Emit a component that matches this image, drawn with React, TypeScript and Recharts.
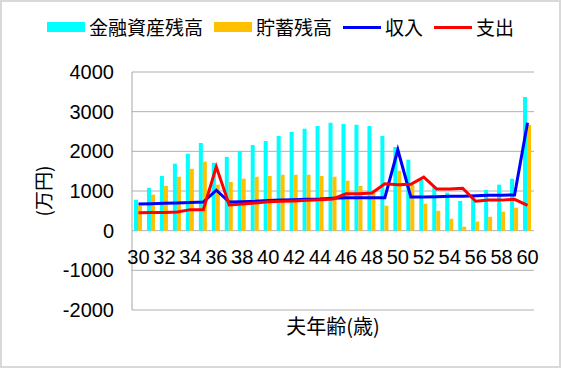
import React from 'react';
import {
  ComposedChart,
  Bar,
  Line,
  XAxis,
  YAxis,
  CartesianGrid,
  Legend
} from 'recharts';

// 夫年齢(歳)
const ages = [30, 31, 32, 33, 34, 35, 36, 37, 38, 39, 40, 41, 42, 43, 44, 45, 46, 47, 48, 49, 50, 51, 52, 53, 54, 55, 56, 57, 58, 59, 60];

// 金融資産残高 (万円)
const assets = [780, 1080, 1380, 1690, 1940, 2210, 1710, 1860, 2010, 2160, 2260, 2390, 2490, 2570, 2640, 2720, 2690, 2670, 2640, 2390, 2110, 1790, 1280, 1130, 960, 750, 850, 1030, 1160, 1310, 3370];

// 貯蓄残高 (万円)
const savings = [630, 910, 1130, 1360, 1560, 1740, 1160, 1230, 1310, 1360, 1380, 1410, 1410, 1410, 1380, 1360, 1260, 1130, 950, 630, 1510, 1160, 680, 500, 300, 100, 230, 350, 480, 580, 2670];

// 収入 (万円)
const income = [670, 680, 690, 700, 710, 720, 1020, 720, 730, 740, 760, 770, 780, 790, 800, 820, 830, 830, 830, 830, 2040, 850, 850, 855, 865, 870, 880, 890, 895, 900, 2720];

// 支出 (万円)
const expense = [450, 455, 460, 470, 530, 530, 1610, 650, 670, 700, 730, 740, 750, 765, 780, 800, 930, 930, 950, 1180, 1160, 1170, 1350, 1050, 1050, 1070, 740, 770, 770, 790, 640];

const yTicks = [-2000, -1000, 0, 1000, 2000, 3000, 4000];

const legendItems = [
  { name: '金融資産残高', color: '#00FFFF', kind: 'bar' },
  { name: '貯蓄残高', color: '#FFC000', kind: 'bar' },
  { name: '収入', color: '#0000FF', kind: 'line' },
  { name: '支出', color: '#FF0000', kind: 'line' }
];

const data = ages.map((age, i) => ({
  age,
  assets: assets[i],
  savings: savings[i],
  income: income[i],
  expense: expense[i]
}));

const cjk = '"Noto Sans CJK JP", sans-serif';
const latin = '"Liberation Sans", Arial, sans-serif';

// category labels sit just under the zero line, not at the plot bottom
const AgeTick = (props: any) => {
  const { x, y, payload } = props;
  return (
    <text x={x} y={y} dy={-46} textAnchor="middle" fontSize={20} fontFamily={latin} fill="#000">
      {payload.value}
    </text>
  );
};

// rotated unit label, centred on the value axis
const UnitLabel = (props: any) => {
  const { viewBox } = props;
  const cx = viewBox.x + 40;
  const cy = viewBox.y + viewBox.height / 2;
  return (
    <text
      x={cx}
      y={cy}
      transform={`rotate(-90 ${cx} ${cy})`}
      textAnchor="middle"
      dominantBaseline="central"
      fontSize={19}
      fontFamily={cjk}
      fill="#000"
    >
      (万円)
    </text>
  );
};

const renderLegend = () => (
  <div style={{ display: 'flex', justifyContent: 'center', alignItems: 'center', fontFamily: cjk, fontSize: 19, color: '#000', lineHeight: '24px' }}>
    {legendItems.map((item, i) => (
      <div key={i} style={{ display: 'flex', alignItems: 'center', marginRight: i < legendItems.length - 1 ? 11 : 0 }}>
        <span
          style={{
            display: 'inline-block',
            width: 38,
            height: item.kind === 'bar' ? 10 : 3,
            background: item.color,
            marginRight: 4
          }}
        />
        <span>{item.name}</span>
      </div>
    ))}
  </div>
);

export default function App() {
  return (
    <div style={{ width: 561, height: 368, boxSizing: 'border-box', border: '2px solid #d9d9d9', background: '#fff', position: 'absolute', left: 0, top: 0 }}>
      <ComposedChart
        width={557}
        height={364}
        data={data}
        margin={{ top: 70, right: 25, bottom: 0, left: 0 }}
        barCategoryGap={2}
        barGap={0}
      >
        <CartesianGrid vertical={false} stroke="#b0b0b0" strokeWidth={1} />
        <XAxis
          dataKey="age"
          height={56}
          interval={1}
          axisLine={false}
          tickLine={false}
          tickSize={0}
          tickMargin={0}
          tick={<AgeTick />}
          label={{ value: '夫年齢(歳)', position: 'insideBottom', offset: 32, fontSize: 20, fontFamily: cjk, fill: '#000' }}
        />
        <YAxis
          width={130}
          domain={[-2000, 4000]}
          ticks={yTicks}
          interval={0}
          axisLine={{ stroke: '#a6a6a6' }}
          tickLine={false}
          tickSize={0}
          tickMargin={18}
          tick={{ fontSize: 20, fontFamily: latin, fill: '#000' }}
          label={<UnitLabel />}
        />
        <Legend verticalAlign="middle" align="center" content={renderLegend} wrapperStyle={{ top: 13, left: 0, width: 557 }} />
        <Bar dataKey="assets" name="金融資産残高" fill="#00FFFF" isAnimationActive={false} />
        <Bar dataKey="savings" name="貯蓄残高" fill="#FFC000" isAnimationActive={false} />
        <Line dataKey="income" name="収入" type="linear" stroke="#0000FF" strokeWidth={3} dot={false} isAnimationActive={false} />
        <Line dataKey="expense" name="支出" type="linear" stroke="#FF0000" strokeWidth={3} dot={false} isAnimationActive={false} />
      </ComposedChart>
    </div>
  );
}
